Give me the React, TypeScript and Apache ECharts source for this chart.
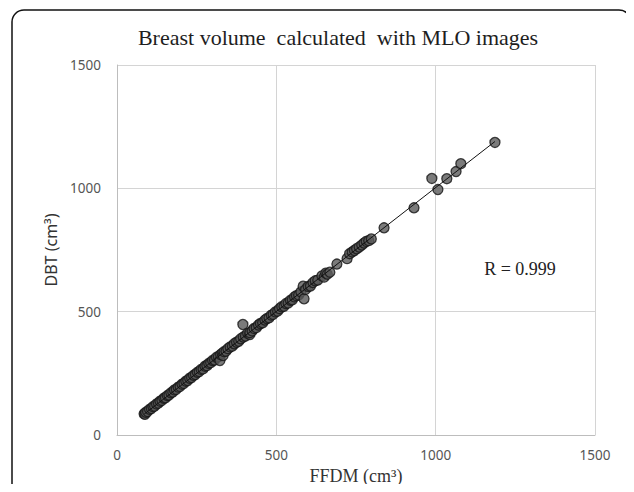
import React, { useEffect, useRef } from "react";
import * as echarts from "echarts";

const TITLE = "Breast volume  calculated  with MLO images";
const X_NAME = "FFDM (cm³)";
const Y_NAME = "DBT (cm³)";
const R_LABEL = "R = 0.999";
const AXIS_MIN = 0;
const AXIS_MAX = 1500;
const AXIS_INTERVAL = 500;

// [FFDM, DBT] volumes in cm³
const points: [number, number][] = [
  [85, 86], [88, 84], [90, 92], [96, 95], [102, 104], [108, 107], [113, 115], [118, 117],
  [124, 126], [130, 129], [135, 137], [141, 140], [147, 149], [152, 151], [158, 160],
  [163, 162], [169, 171], [175, 174], [180, 183], [186, 185], [192, 194], [198, 197],
  [204, 206], [210, 209], [216, 218], [222, 221], [228, 230], [234, 233], [240, 242],
  [246, 245], [252, 254], [258, 257], [264, 266], [270, 268], [276, 279], [282, 281],
  [288, 290], [294, 293], [300, 302], [306, 304], [312, 315], [318, 317], [323, 302],
  [325, 326], [330, 331], [333, 322], [336, 338], [342, 340], [348, 350], [355, 357],
  [362, 360], [368, 370], [375, 376], [382, 380], [388, 390], [395, 448], [396, 397],
  [403, 401], [410, 412], [417, 407], [417, 415], [424, 422], [430, 432], [437, 435],
  [444, 446], [450, 452], [457, 455], [464, 466], [470, 472], [477, 475], [484, 486],
  [490, 489], [497, 499], [504, 502], [510, 512], [517, 520], [524, 522], [530, 533],
  [537, 535], [544, 546], [550, 548], [557, 560], [563, 565], [570, 568], [577, 580],
  [584, 603], [587, 552], [592, 590], [600, 602], [607, 604], [615, 618], [622, 625],
  [630, 628], [643, 645], [650, 640], [655, 656], [660, 652], [668, 660], [690, 693],
  [722, 715], [730, 735], [738, 742], [745, 748], [752, 755], [760, 762], [768, 770],
  [775, 778], [782, 785], [790, 788], [798, 795], [838, 840], [932, 921], [988, 1040],
  [1007, 995], [1035, 1039], [1064, 1068], [1079, 1100], [1186, 1186],
];

function fitLine(data: [number, number][]): [number, number][] {
  const n = data.length;
  let sx = 0, sy = 0, sxx = 0, sxy = 0;
  let minX = Infinity, maxX = -Infinity;
  for (const [x, y] of data) {
    sx += x; sy += y; sxx += x * x; sxy += x * y;
    if (x < minX) minX = x;
    if (x > maxX) maxX = x;
  }
  const b = (n * sxy - sx * sy) / (n * sxx - sx * sx);
  const a = (sy - b * sx) / n;
  return [[minX, a + b * minX], [maxX, a + b * maxX]];
}

export default function App() {
  const ref = useRef<HTMLDivElement>(null);
  useEffect(() => {
    if (!ref.current) return;
    const chart = echarts.init(ref.current, undefined, { renderer: "svg" });
    const trend = fitLine(points);
    const tickFont = {
      fontFamily: "Noto Sans",
      fontSize: 13.5,
      color: "#555555",
      formatter: (v: number) => String(v),
    };
    chart.setOption({
      animation: false,
      backgroundColor: "#ffffff",
      title: {
        text: TITLE,
        left: 333,
        top: 21,
        textAlign: "center",
        textStyle: {
          fontFamily: "Liberation Serif",
          fontSize: 22,
          fontWeight: "normal",
          color: "#1e1e1e",
        },
      },
      graphic: [
        {
          type: "rect",
          shape: { x: 12, y: 10, width: 619, height: 520, r: 12 },
          style: { fill: "none", stroke: "#111111", lineWidth: 1.5 },
          silent: true,
        },
        {
          type: "text",
          x: 520,
          y: 269,
          style: {
            text: R_LABEL,
            fontFamily: "Liberation Serif",
            fontSize: 18,
            fill: "#222222",
            align: "center",
            verticalAlign: "middle",
          },
        },
      ],
      grid: { left: 117, right: 39, top: 65, bottom: 57 },
      xAxis: {
        type: "value",
        min: AXIS_MIN,
        max: AXIS_MAX,
        interval: AXIS_INTERVAL,
        name: X_NAME,
        nameLocation: "middle",
        nameGap: 30,
        nameTextStyle: { fontFamily: "Liberation Serif", fontSize: 18, color: "#333333" },
        axisLine: { show: true, lineStyle: { color: "#bdbdbd", width: 1 } },
        axisTick: { show: false },
        axisLabel: { ...tickFont, margin: 13 },
        splitLine: { show: true, lineStyle: { color: "#d4d4d4", width: 1 } },
      },
      yAxis: {
        type: "value",
        min: AXIS_MIN,
        max: AXIS_MAX,
        interval: AXIS_INTERVAL,
        name: Y_NAME,
        nameLocation: "middle",
        nameGap: 55,
        nameTextStyle: { fontFamily: "Noto Sans", fontSize: 16, color: "#333333" },
        axisLine: { show: true, lineStyle: { color: "#bdbdbd", width: 1 } },
        axisTick: { show: false },
        axisLabel: { ...tickFont, margin: 16 },
        splitLine: { show: true, lineStyle: { color: "#d4d4d4", width: 1 } },
      },
      series: [
        {
          type: "scatter",
          data: points,
          symbol: "circle",
          symbolSize: 10,
          itemStyle: { color: "#5a5a5a", borderColor: "#151515", borderWidth: 1.3 },
          z: 2,
        },
        {
          type: "line",
          data: trend,
          symbol: "none",
          lineStyle: { color: "#111111", width: 1 },
          z: 3,
        },
      ],
    });
    return () => chart.dispose();
  }, []);
  return <div ref={ref} style={{ width: 634, height: 492, margin: -8 }} />;
}
